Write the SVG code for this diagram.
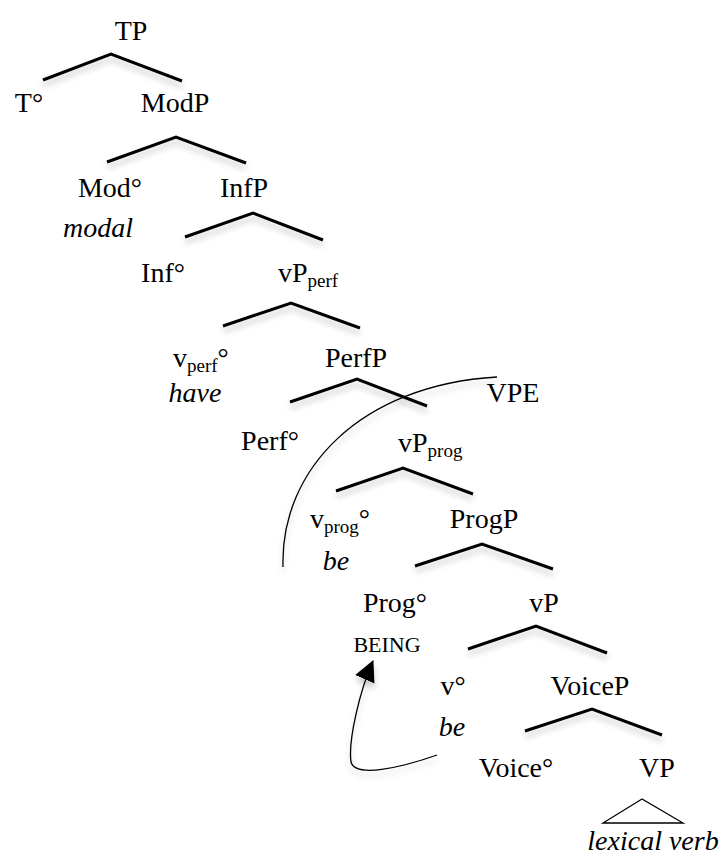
<svg xmlns="http://www.w3.org/2000/svg" width="726" height="861" viewBox="0 0 726 861">
<defs>
<filter id="sh" x="-20%" y="-40%" width="140%" height="200%">
<feDropShadow dx="0" dy="5" stdDeviation="3" flood-color="#000" flood-opacity="0.22"/>
</filter>
<marker id="ah2" markerWidth="22" markerHeight="22" refX="20" refY="11" orient="auto" markerUnits="userSpaceOnUse" viewBox="0 0 22 22">
<path d="M0,0.5 L21,11 L0,21.5 z" fill="#000"/>
</marker>
</defs>
<style>
text{font-family:"Liberation Serif","Times New Roman",serif;font-size:28px;fill:#000}
.it{font-style:italic}
.sc{font-size:22px}
.br{fill:none;stroke:#000;stroke-width:3;filter:url(#sh)}
.thin{fill:none;stroke:#000;stroke-width:1.3}
.m{text-anchor:middle}
</style>
<rect width="726" height="861" fill="#fff"/>
<g id="connectors">
<polyline class="br" points="43,80 111,54 182,81"/>
<polyline class="br" points="107,162 176,137 246,163"/>
<polyline class="br" points="185,237 253,213 323,240"/>
<polyline class="br" points="223,326 291,303 360,328"/>
<polyline class="br" points="290,402 357,379 427,406"/>
<polyline class="br" points="336,491 403,468 473,494"/>
<polyline class="br" points="415,566 482,544 553,569"/>
<polyline class="br" points="468,649 536,626 607,653"/>
<polyline class="br" points="525,731 592,709 662,735"/>
<polygon class="thin" points="642,799 603,823 683,823"/>
<path class="thin" style="filter:url(#sh)" d="M283,567 C280,470 360,385 497,377"/>
<path class="thin" style="filter:url(#sh)" d="M437,755 C400,768 355,778 351,762 C348,740 360,690 373,661" marker-end="url(#ah2)"/>
</g>
<g id="n-TP"><text class="m" x="131" y="40">TP</text></g>
<g id="n-T"><text class="m" x="29" y="112">T°</text></g>
<g id="n-ModP"><text class="m" x="175" y="112">ModP</text></g>
<g id="n-Mod"><text class="m" x="110" y="197">Mod°</text><text class="m it" x="98" y="237">modal</text></g>
<g id="n-InfP"><text class="m" x="244" y="197">InfP</text></g>
<g id="n-Inf"><text class="m" x="163" y="282">Inf°</text></g>
<g id="n-vPperf"><text x="278" y="282">vP<tspan dy="5" font-size="19">perf</tspan></text></g>
<g id="n-vperf"><text x="173" y="367">v<tspan dy="5" font-size="19">perf</tspan><tspan dy="-5">°</tspan></text><text class="m it" x="195" y="402">have</text></g>
<g id="n-PerfP"><text class="m" x="356" y="367">PerfP</text></g>
<g id="n-VPE"><text class="m" x="513" y="402">VPE</text></g>
<g id="n-Perf"><text class="m" x="270" y="450">Perf°</text></g>
<g id="n-vPprog"><text x="398" y="452">vP<tspan dy="5" font-size="19">prog</tspan></text></g>
<g id="n-vprog"><text x="310" y="528">v<tspan dy="5" font-size="19">prog</tspan><tspan dy="-5">°</tspan></text><text class="m it" x="336" y="570">be</text></g>
<g id="n-ProgP"><text class="m" x="484" y="528">ProgP</text></g>
<g id="n-Prog"><text class="m" x="395" y="612">Prog°</text><text class="m sc" x="387" y="652">BEING</text></g>
<g id="n-vP"><text class="m" x="544" y="612">vP</text></g>
<g id="n-v"><text class="m" x="453" y="695">v°</text><text class="m it" x="452" y="736">be</text></g>
<g id="n-VoiceP"><text class="m" x="590" y="695">VoiceP</text></g>
<g id="n-Voice"><text class="m" x="516" y="777">Voice°</text></g>
<g id="n-VP"><text class="m" x="657" y="777">VP</text><text class="m it" x="653" y="850">lexical verb</text></g>
</svg>
